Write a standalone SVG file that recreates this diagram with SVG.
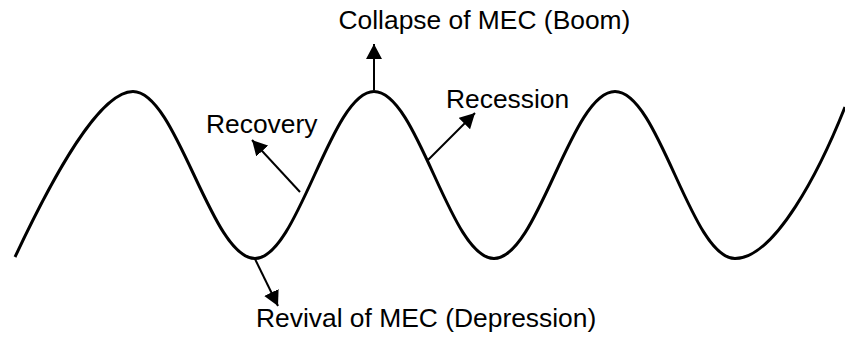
<svg xmlns="http://www.w3.org/2000/svg" width="845" height="339" viewBox="0 0 845 339">
<style>
.lbl{font-family:"Liberation Sans",Arial,sans-serif;font-size:26.4px;fill:#000}
.wave{fill:none;stroke:#000;stroke-width:3;stroke-linecap:butt}
.arr{fill:none;stroke:#000;stroke-width:2;marker-end:url(#ah)}
</style>
<defs>
<marker id="ah" viewBox="0 0 16 16" markerWidth="16" markerHeight="16" refX="15" refY="8" orient="auto" markerUnits="userSpaceOnUse">
<path d="M0,0 L15,8 L0,16 z" fill="#000"/>
</marker>
</defs>
<rect width="845" height="339" fill="#fff"/>
<g id="wave">
<path class="wave" d="M15,257 C55,172 100,91.5 133,91.5 C177,91.5 211,258.5 255,258.5 C298,258.5 331,91.5 374,91.5 C418,91.5 450,258.5 494,258.5 C538,258.5 571,91.5 615,91.5 C659,91.5 691,258.5 735,258.5 C775,258.5 820,170 845,107"/>
</g>
<g id="connectors">
<line class="arr" x1="374" y1="90" x2="374" y2="44"/>
<line class="arr" x1="428" y1="160" x2="475" y2="113"/>
<line class="arr" x1="300" y1="192" x2="252" y2="140"/>
<line class="arr" x1="255" y1="259" x2="278" y2="306"/>
</g>
<g id="boom"><text class="lbl" x="338.5" y="29">Collapse of MEC (Boom)</text></g>
<g id="recovery"><text class="lbl" x="206" y="133">Recovery</text></g>
<g id="recession"><text class="lbl" x="446" y="108">Recession</text></g>
<g id="revival"><text class="lbl" x="256" y="327">Revival of MEC (Depression)</text></g>
</svg>
